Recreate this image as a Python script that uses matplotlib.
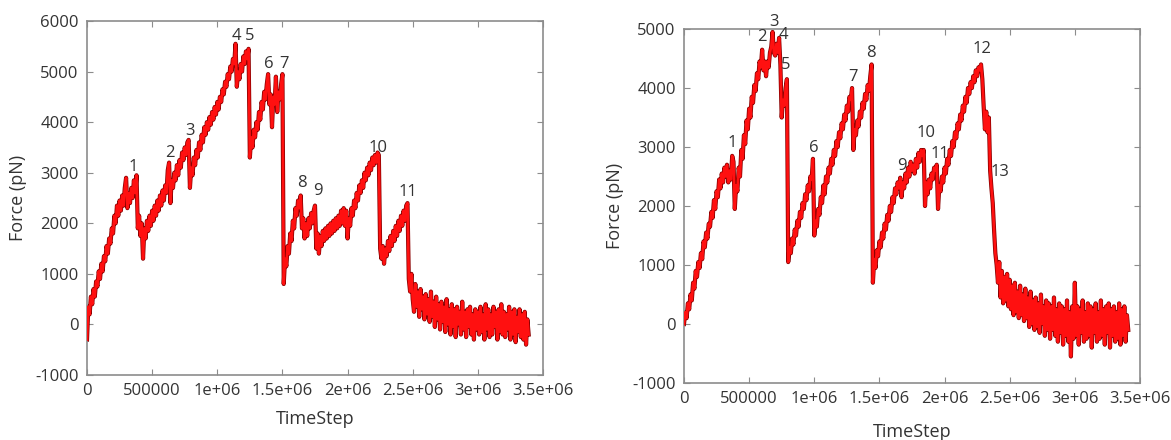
import numpy as np
import matplotlib
matplotlib.use("Agg")
import matplotlib.pyplot as plt

# ---------------- data ----------------
step = 10000   # timestep spacing of the samples below

force_left = [
    -300, 350, 200, 550, 400, 700, 550, 850, 750, 1050,
    900, 1200, 1050, 1350, 1250, 1550, 1400, 1700, 1600, 1900,
    1800, 2150, 2000, 2350, 2150, 2450, 2250, 2550, 2350, 2700,
    2900, 2300, 2600, 2400, 2700, 2500, 2850, 2600, 2950, 1900,
    2150, 1750, 2000, 1300, 1900, 1700, 2050, 1850, 2150, 1950,
    2250, 2050, 2350, 2150, 2450, 2250, 2550, 2350, 2650, 2450,
    2750, 2600, 3050, 3200, 2400, 2850, 2700, 3000, 2850, 3150,
    2950, 3250, 3100, 3400, 3250, 3500, 3350, 3600, 3650, 2700,
    3100, 2950, 3300, 3150, 3450, 3300, 3600, 3450, 3750, 3600,
    3900, 3750, 4000, 3850, 4100, 3950, 4200, 4050, 4300, 4150,
    4400, 4250, 4500, 4400, 4650, 4550, 4800, 4700, 4950, 4850,
    5100, 5000, 5250, 5150, 5550, 4700, 5000, 4850, 5150, 5000,
    5300, 5150, 5400, 5250, 5450, 3300, 3700, 3500, 3850, 3700,
    4000, 3850, 4200, 4050, 4400, 4250, 4600, 4450, 4750, 4950,
    4350, 4550, 3900, 4500, 4350, 4900, 4200, 4600, 4450, 4750,
    4950, 800, 1300, 1150, 1550, 1400, 1800, 1650, 2050, 1900,
    2300, 2150, 2450, 2300, 2550, 1900, 2100, 1700, 2000, 1750,
    2100, 1900, 2200, 2000, 2250, 2350, 1500, 1800, 1400, 1750,
    1550, 1850, 1650, 1900, 1700, 1950, 1750, 2000, 1800, 2050,
    1850, 2100, 1900, 2150, 1950, 2250, 2000, 2300, 1950, 2250,
    1700, 2100, 1950, 2300, 2150, 2450, 2300, 2600, 2450, 2750,
    2600, 2850, 2700, 3000, 2850, 3100, 2950, 3200, 3050, 3300,
    3150, 3350, 3200, 3400, 3350, 1500, 1300, 1550, 1200, 1500,
    1350, 1650, 1450, 1750, 1550, 1850, 1650, 1950, 1750, 2050,
    1850, 2150, 1950, 2250, 2050, 2350, 2400, 900, 650, 1000,
    500, 250, 800, 350, 650, 150, 700, 300, 550, 100,
    600, 200, 500, 50, 650, 150, 450, -50, 550, 100,
    400, -100, 450, 50, 350, -150, 500, 0, 300, -200,
    400, -50, 300, -250, 350, 0, 250, -200, 450, -100,
    250, -250, 300, -50, 350, -200, 200, -300, 300, -100,
    250, -200, 350, -150, 200, -300, 400, -100, 300, -250,
    200, -200, 350, -50, 250, -300, 300, -150, 400, -200,
    250, -250, 200, -100, 350, -300, 250, -200, 300, -350,
    150, -150, 300, -250, 200, -300, 250, -400, 100, -200,
]

force_right = [
    0, 200, 100, 350, 250, 500, 400, 700, 600, 900,
    800, 1050, 950, 1200, 1100, 1400, 1300, 1550, 1450, 1700,
    1650, 1900, 1800, 2100, 1950, 2250, 2150, 2450, 2300, 2550,
    2400, 2650, 2500, 2700, 2400, 2600, 2450, 2850, 2750, 1950,
    2350, 2250, 2650, 2500, 2950, 2800, 3200, 3050, 3450, 3300,
    3650, 3500, 3850, 3750, 4050, 3950, 4250, 4150, 4450, 4350,
    4650, 4300, 4450, 4200, 4450, 4350, 4600, 4700, 4950, 4600,
    4550, 4750, 4600, 4850, 4400, 3500, 3800, 3700, 4000, 4150,
    1050, 1300, 1200, 1450, 1350, 1600, 1500, 1750, 1650, 1900,
    1800, 2050, 1950, 2200, 2100, 2350, 2250, 2500, 2450, 2800,
    1500, 1750, 1650, 1950, 1850, 2150, 2050, 2350, 2200, 2500,
    2400, 2650, 2550, 2800, 2700, 2950, 2850, 3100, 3000, 3250,
    3150, 3400, 3300, 3550, 3450, 3700, 3600, 3850, 3800, 4000,
    2950, 3300, 3200, 3450, 3350, 3600, 3500, 3750, 3650, 3900,
    3800, 4050, 3950, 4200, 4400, 700, 1100, 950, 1250, 1150,
    1400, 1300, 1550, 1450, 1700, 1600, 1850, 1750, 2000, 1900,
    2150, 2050, 2300, 2200, 2400, 2300, 2480, 2150, 2400, 2300,
    2550, 2400, 2650, 2500, 2750, 2600, 2700, 2550, 2800, 2650,
    2900, 2750, 2950, 2850, 2950, 2000, 2400, 2200, 2450, 2300,
    2550, 2450, 2650, 2600, 2700, 1950, 2350, 2250, 2500, 2400,
    2650, 2550, 2800, 2700, 2950, 2850, 3100, 3000, 3250, 3150,
    3400, 3300, 3550, 3450, 3700, 3600, 3850, 3750, 4000, 3900,
    4100, 4000, 4200, 4100, 4300, 4200, 4350, 4300, 4400, 4150,
    3700, 3300, 3600, 3250, 3500, 2600, 2300, 2050, 1600, 1200,
    1000, 700, 1050, 450, 900, 350, 800, 400, 850, 300,
    750, 250, 650, 150, 700, 200, 550, 100, 650, 150,
    500, 50, 600, 100, 450, -50, 550, 0, 400, -100,
    450, -50, 350, -150, 500, 0, 300, -200, 400, -100,
    350, -250, 300, -100, 450, -200, 250, -300, 350, -150,
    300, -350, 250, -200, 400, -300, 200, -550, 300, -250,
    700, -200, 300, -350, 250, -150, 400, -300, 200, -250,
    350, -200, 300, -400, 250, -150, 350, -300, 200, -250,
    400, -200, 250, -350, 300, -150, 350, -400, 250, -200,
    300, -300, 200, -250, 350, -350, 250, -200, 300, -300,
    150, -100,
]

# peak numbers and where they sit (timestep, force)
labels_left = ["1", "2", "3", "4", "5", "6", "7", "8", "9", "10", "11"]
label_x_left = [352e3, 636e3, 789e3, 1148e3, 1248e3, 1394e3, 1510e3, 1647e3, 1770e3, 2230e3, 2460e3]
label_y_left = [3120, 3400, 3830, 5710, 5710, 5160, 5160, 2806, 2630, 3480, 2610]

labels_right = ["1", "2", "3", "4", "5", "6", "7", "8", "9", "10", "11", "12", "13"]
label_x_right = [371e3, 595e3, 688e3, 765e3, 780e3, 997e3, 1298e3, 1437e3, 1669e3, 1855e3, 1963e3, 2287e3, 2427e3]
label_y_right = [3068, 4864, 5119, 4900, 4390, 2983, 4190, 4590, 2680, 3237, 2881, 4660, 2576]

xticks = [0, 500000, 1000000, 1500000, 2000000, 2500000, 3000000, 3500000]
xtick_labels = ["0", "500000", "1e+06", "1.5e+06", "2e+06", "2.5e+06", "3e+06", "3.5e+06"]
yticks_left = [-1000, 0, 1000, 2000, 3000, 4000, 5000, 6000]
yticks_right = [-1000, 0, 1000, 2000, 3000, 4000, 5000]

# ---------------- plotting ----------------
plt.rcParams['font.family'] = ['Open Sans', 'DejaVu Sans']
plt.rcParams['axes.unicode_minus'] = False
txt = '#333333'
edge = '#8c8c8c'

fig = plt.figure(figsize=(11.71, 4.40), dpi=100)
ax1 = fig.add_axes([0.0743, 0.1477, 0.3894, 0.8045])
ax2 = fig.add_axes([0.5841, 0.1295, 0.3894, 0.8045])


def draw(ax, force, labs, lx, ly, yticks, ylim, xpad):
    t = np.arange(len(force)) * step
    ax.plot(t, force, color='#8a0000', lw=3.0, zorder=2)
    ax.plot(t, force, color='#ff1010', lw=1.9, zorder=3)
    for s, x, y in zip(labs, lx, ly):
        ax.text(x, y, s, ha='center', va='center', fontsize=12, color=txt, zorder=4)
    ax.set_xlim(0, 3500000)
    ax.set_ylim(*ylim)
    ax.set_xticks(xticks)
    ax.set_xticklabels(xtick_labels)
    ax.set_yticks(yticks)
    ax.tick_params(direction='in', top=True, right=True, labelsize=12,
                   labelcolor=txt, color=edge, length=4, pad=6)
    for sp in ax.spines.values():
        sp.set_color(edge)
        sp.set_linewidth(1.2)
    ax.set_xlabel('TimeStep', fontsize=13, color=txt, labelpad=xpad)
    ax.set_ylabel('Force (pN)', fontsize=13, color=txt, labelpad=6)


draw(ax1, force_left, labels_left, label_x_left, label_y_left, yticks_left, (-1000, 6000), 8)
draw(ax2, force_right, labels_right, label_x_right, label_y_right, yticks_right, (-1000, 5000), 11)

fig.savefig('out.png', dpi=100)
